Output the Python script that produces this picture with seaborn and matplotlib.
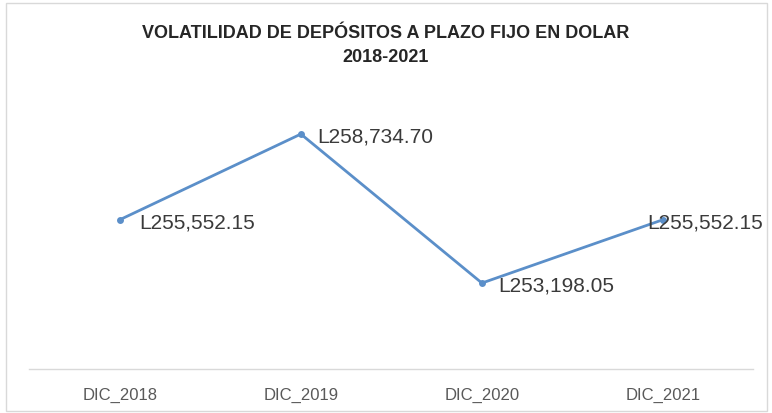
import seaborn as sns
import matplotlib.pyplot as plt
import pandas as pd
from matplotlib.patches import Rectangle

periodos = ["DIC_2018", "DIC_2019", "DIC_2020", "DIC_2021"]
saldos = [255552.15, 258734.70, 253198.05, 255552.15]
etiquetas = ["L255,552.15", "L258,734.70", "L253,198.05", "L255,552.15"]
titulo = "VOLATILIDAD DE DEPÓSITOS A PLAZO FIJO EN DOLAR\n2018-2021"

df = pd.DataFrame({"periodo": periodos, "saldo": saldos})

sns.set_theme(style="white")
plt.rcParams["font.family"] = ["Liberation Sans", "DejaVu Sans"]

fig = plt.figure(figsize=(7.72, 4.14), dpi=100)
ax = fig.add_axes([0.038, 0.106, 0.938, 0.65])

sns.lineplot(data=df, x="periodo", y="saldo", ax=ax, color="#5B8FC9",
             linewidth=2, marker="o", markersize=5, markeredgewidth=0)

# desplazamiento horizontal de cada etiqueta (en puntos)
desp = [14, 12, 12, -11]
for i, (v, t) in enumerate(zip(saldos, etiquetas)):
    ax.annotate(t, (i, v), xytext=(desp[i], -1.5), textcoords="offset points",
                ha="left", va="center", fontsize=15, color="#3a3a3a")

ax.set_xlim(-0.5, 3.5)
ax.set_ylim(250000, 260000)
ax.set_yticks([])
ax.set_xlabel("")
ax.set_ylabel("")
for s in ["top", "right", "left"]:
    ax.spines[s].set_visible(False)
ax.spines["bottom"].set_color("#d9d9d9")
ax.spines["bottom"].set_linewidth(1)
ax.tick_params(axis="x", length=0, pad=13, labelsize=12, labelcolor="#595959")

fig.text(0.5, 0.891, titulo, ha="center", va="center", fontsize=13,
         fontweight="bold", color="#262626", linespacing=1.55)

fig.patches.append(Rectangle((0.008, 0.005), 0.986, 0.985, transform=fig.transFigure,
                             fill=False, edgecolor="#d9d9d9", linewidth=1))

fig.savefig("out.png", dpi=100)
